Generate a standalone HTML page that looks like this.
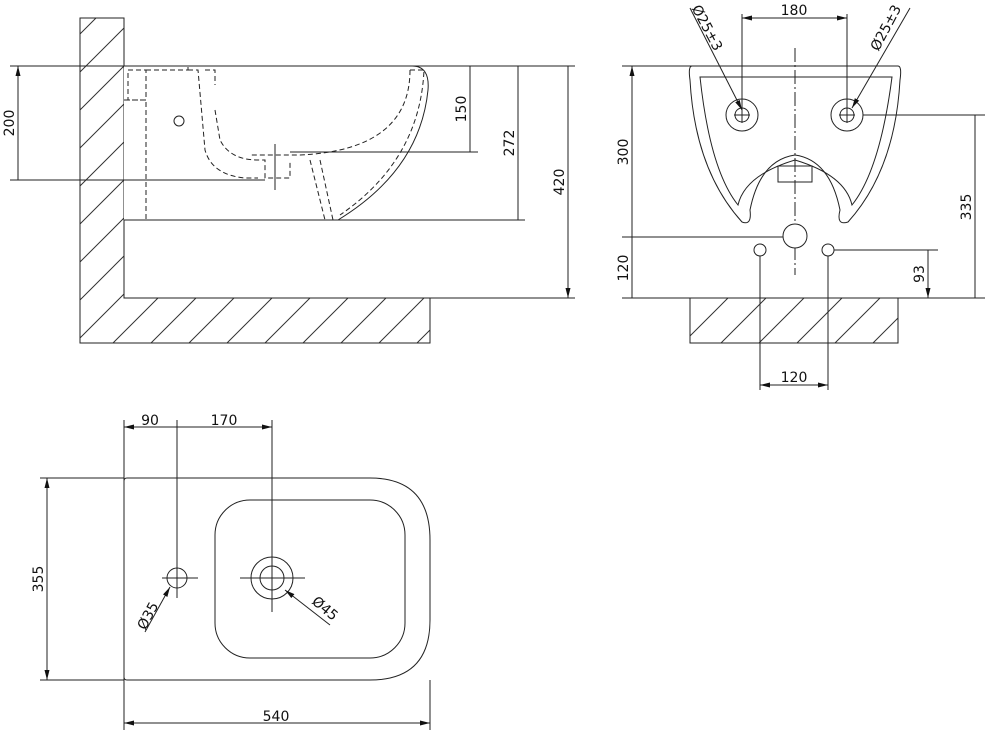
<!DOCTYPE html>
<html><head><meta charset="utf-8"><style>
html,body{margin:0;padding:0;background:#fff}
svg{display:block}
text{font-family:"DejaVu Sans","Liberation Sans",sans-serif;font-size:14px;fill:#111}
</style></head><body>
<svg width="992" height="735" viewBox="0 0 992 735" xmlns="http://www.w3.org/2000/svg">
<defs>
<pattern id="h" patternUnits="userSpaceOnUse" width="38" height="38">
<path d="M-9.5,47.5 L47.5,-9.5 M-28.5,28.5 L28.5,-28.5 M9.5,66.5 L66.5,9.5" stroke="#333" stroke-width="1"/>
</pattern>
<marker id="a" markerWidth="10" markerHeight="6" refX="10" refY="3" orient="auto-start-reverse" markerUnits="userSpaceOnUse">
<path d="M0,0.5 L10,3 L0,5.5 Z" fill="#111"/>
</marker>
</defs>
<g stroke="#222" stroke-width="1" fill="none">
<!-- SIDE VIEW -->
<path d="M80,18 H124 V298 H430 V343 H80 Z" fill="url(#h)"/>
<path d="M124,66 H412 Q430,66 428,90 Q420,170 338,220 H124" fill="#fff"/>
<g stroke-dasharray="5,3">
<path d="M128,70 H146 V100 H128 Z"/>
<path d="M124,100 H146 V220"/>
<path d="M146,70 H188 V66 M188,70 H198 L205,150 Q212,175 245,178 H258"/>
<path d="M205,70 H215 V85 M215,110 L220,140 Q230,160 258,160 H265 V178 H290 V160"/>
<path d="M310,160 L325,220 M320,160 L333,220"/>
<path d="M410,70 H424 Q420,160 340,215 M410,70 Q410,150 300,155 H250"/>
</g>
<circle cx="179" cy="121" r="5"/>
<path d="M275,144 V190"/>
<path d="M10,66 H575 M10,180 H265 M290,152 H478 M333,220 H525"/>
<path d="M18,66 V180 M470,66 V152 M518,66 V220 M568,66 V298" marker-start="url(#a)" marker-end="url(#a)"/>
<path d="M430,298 H575"/>
<!-- FRONT VIEW -->
<path d="M690,298 H898 V343 H690 Z" fill="url(#h)"/>
<path d="M690,66 H898 Q902,66 900,80 Q895,170 848,222 Q836,226 840,210 Q830,160 795,155 Q760,160 750,210 Q752,226 742,222 Q695,170 690,80 Q688,66 692,66 Z" fill="#fff"/>
<path d="M700,77 H892 Q880,170 852,205 Q845,175 795,160 Q745,175 738,205 Q710,170 700,77 Z"/>
<path d="M778,166 H812 V182 H778 Z"/>
<path d="M795,48 V275" stroke-dasharray="14,3,2,3"/>
<circle cx="742" cy="115" r="16"/><circle cx="742" cy="115" r="7"/>
<circle cx="847" cy="115" r="16"/><circle cx="847" cy="115" r="7"/>
<path d="M734,115 H750 M742,107 V123 M839,115 H855 M847,107 V123"/>
<circle cx="795" cy="236" r="12" fill="#fff"/>
<circle cx="760" cy="250" r="6"/><circle cx="828" cy="250" r="6"/>
<path d="M742,14 V115 M847,14 V115"/>
<path d="M742,18 H847" marker-start="url(#a)" marker-end="url(#a)"/>
<path d="M690,8 L742,110" marker-end="url(#a)"/>
<path d="M910,8 L852,108" marker-end="url(#a)"/>
<path d="M622,66 H690 M622,237 H783 M622,298 H690 M898,298 H985 M863,115 H985 M834,250 H938"/>
<path d="M632,66 V237 M632,237 V298 M975,115 V298 M928,250 V298" marker-start="url(#a)" marker-end="url(#a)"/>
<path d="M760,256 V390 M828,256 V390"/>
<path d="M760,385 H828" marker-start="url(#a)" marker-end="url(#a)"/>
<!-- TOP VIEW -->
<path d="M127,478 H370 Q430,478 430,540 V620 Q430,680 370,680 H127 Q124,680 124,677 V481 Q124,478 127,478 Z"/>
<rect x="215" y="500" width="190" height="158" rx="35"/>
<circle cx="177" cy="578" r="10"/>
<circle cx="272" cy="578" r="21"/><circle cx="272" cy="578" r="12"/>
<path d="M162,578 H198 M177,556 V598 M240,578 H305 M272,545 V612"/>
<path d="M124,420 V730 M177,420 V556 M272,420 V545"/>
<path d="M124,427 H177 M177,427 H272" marker-start="url(#a)" marker-end="url(#a)"/>
<path d="M40,478 H124 M40,680 H124"/>
<path d="M47,478 V680" marker-start="url(#a)" marker-end="url(#a)"/>
<path d="M430,680 V730"/>
<path d="M124,723 H430" marker-start="url(#a)" marker-end="url(#a)"/>
<path d="M145,632 L170,587" marker-end="url(#a)"/>
<path d="M330,625 L285,590" marker-end="url(#a)"/>
</g>
<g>
<text x="14" y="123" transform="rotate(-90 14 123)" text-anchor="middle">200</text>
<text x="466" y="109" transform="rotate(-90 466 109)" text-anchor="middle">150</text>
<text x="514" y="143" transform="rotate(-90 514 143)" text-anchor="middle">272</text>
<text x="564" y="182" transform="rotate(-90 564 182)" text-anchor="middle">420</text>
<text x="794" y="15" text-anchor="middle">180</text>
<text x="628" y="152" transform="rotate(-90 628 152)" text-anchor="middle">300</text>
<text x="628" y="268" transform="rotate(-90 628 268)" text-anchor="middle">120</text>
<text x="971" y="207" transform="rotate(-90 971 207)" text-anchor="middle">335</text>
<text x="924" y="274" transform="rotate(-90 924 274)" text-anchor="middle">93</text>
<text x="794" y="382" text-anchor="middle">120</text>
<text x="703" y="30" transform="rotate(62 703 30)" text-anchor="middle">Ø25±3</text>
<text x="890" y="30" transform="rotate(-62 890 30)" text-anchor="middle">Ø25±3</text>
<text x="150" y="425" text-anchor="middle">90</text>
<text x="224" y="425" text-anchor="middle">170</text>
<text x="43" y="579" transform="rotate(-90 43 579)" text-anchor="middle">355</text>
<text x="276" y="721" text-anchor="middle">540</text>
<text x="152" y="618" transform="rotate(-62 152 618)" text-anchor="middle">Ø35</text>
<text x="322" y="612" transform="rotate(40 322 612)" text-anchor="middle">Ø45</text>
</g>
</svg>
</body></html>
